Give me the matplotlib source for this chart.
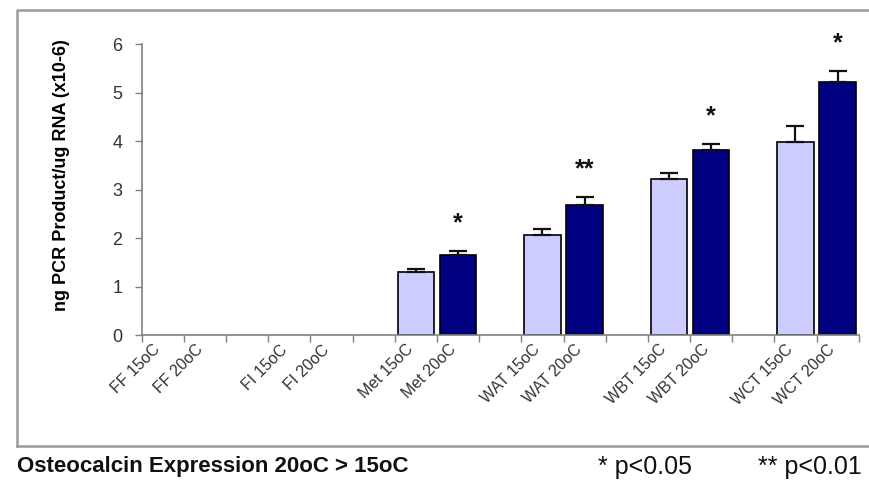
import matplotlib
matplotlib.use("Agg")
import matplotlib.pyplot as plt
from matplotlib.lines import Line2D
from matplotlib.transforms import ScaledTranslation

# osteocalcin expression by tissue, 15oC vs 20oC
groups = ["FF", "FI", "Met", "WAT", "WBT", "WCT"]
mean_15 = [0, 0, 1.30, 2.06, 3.22, 3.98]
mean_20 = [0, 0, 1.66, 2.69, 3.82, 5.22]
err_15 = [0, 0, 0.07, 0.12, 0.13, 0.33]
err_20 = [0, 0, 0.07, 0.16, 0.13, 0.23]
sig = ["", "", "*", "**", "*", "*"]
labels_15 = ["FF 15oC", "FI 15oC", "Met 15oC", "WAT 15oC", "WBT 15oC", "WCT 15oC"]
labels_20 = ["FF 20oC", "FI 20oC", "Met 20oC", "WAT 20oC", "WBT 20oC", "WCT 20oC"]

plt.rcParams['font.family'] = ['Liberation Sans', 'DejaVu Sans']

fig = plt.figure(figsize=(8.7, 4.8), dpi=100)
ax = fig.add_axes([0.163, 0.302, 0.824, 0.606])

# each group takes 3 slots: 15oC, 20oC, blank
x15 = [3 * i for i in range(len(groups))]
x20 = [3 * i + 1 for i in range(len(groups))]

w = 0.86
for i in range(len(groups)):
    if mean_15[i] > 0:
        ax.bar(x15[i], mean_15[i], width=w, color="#ccccff", edgecolor="black", linewidth=1.2, zorder=2)
        ax.errorbar(x15[i], mean_15[i], yerr=[[0], [err_15[i]]], fmt="none",
                    ecolor="#111111", elinewidth=1.6, capsize=6.5, capthick=1.6, zorder=3)
    if mean_20[i] > 0:
        ax.bar(x20[i], mean_20[i], width=w, color="#000080", edgecolor="black", linewidth=1.2, zorder=2)
        ax.errorbar(x20[i], mean_20[i], yerr=[[0], [err_20[i]]], fmt="none",
                    ecolor="#111111", elinewidth=1.6, capsize=6.5, capthick=1.6, zorder=3)
    if sig[i]:
        ax.text(x20[i], mean_20[i] + err_20[i] + 0.42, sig[i], ha="center", va="baseline",
                fontsize=18, fontweight="bold", color="#111111")

ax.set_xlim(-0.5, 16.5)
ax.set_ylim(0, 6)
ax.set_yticks(range(7))
ax.tick_params(axis="y", labelsize=13, labelcolor="#333333", color="#808080",
               length=5, width=1, direction="out", pad=9)

# boundary ticks
ax.set_xticks([k - 0.5 for k in range(18)])
ax.set_xticklabels([])
ax.tick_params(axis="x", which="major", color="#808080", length=5, width=1, direction="out")
# category labels
ax.set_xticks(x15 + x20, minor=True)
ax.set_xticklabels(labels_15 + labels_20, minor=True, rotation=45, ha="right",
                   rotation_mode="anchor", fontsize=11.5, color="#333333")
ax.tick_params(axis="x", which="minor", length=0, pad=10)
shift = ScaledTranslation(-10 / 100, 7 / 100, fig.dpi_scale_trans)
for lab in ax.xaxis.get_minorticklabels():
    lab.set_transform(lab.get_transform() + shift)

for s in ["top", "right"]:
    ax.spines[s].set_visible(False)
for s in ["left", "bottom"]:
    ax.spines[s].set_color("#808080")
    ax.spines[s].set_linewidth(1.2)

ax.set_ylabel("ng PCR Product/ug RNA (x10-6)", fontsize=13, fontweight="bold")
ax.yaxis.set_label_coords(-0.10, 0.55)

# outer frame
fig.add_artist(Line2D([0.0195, 0.0195, 1.01], [0.071, 0.979, 0.979],
                      transform=fig.transFigure, color="#999999", lw=1.8))
fig.add_artist(Line2D([0.0195, 1.01], [0.071, 0.071],
                      transform=fig.transFigure, color="#999999", lw=1.8))

fig.text(0.02, 0.028, "Osteocalcin Expression 20oC > 15oC", fontsize=16, fontweight="bold",
         ha="left", va="center", color="#111111")
fig.text(598 / 870, 0.028, "* p<0.05", fontsize=18, ha="left", va="center", color="#111111")
fig.text(862 / 870, 0.028, "** p<0.01", fontsize=18, ha="right", va="center", color="#111111")

fig.savefig("out.png", dpi=100)
